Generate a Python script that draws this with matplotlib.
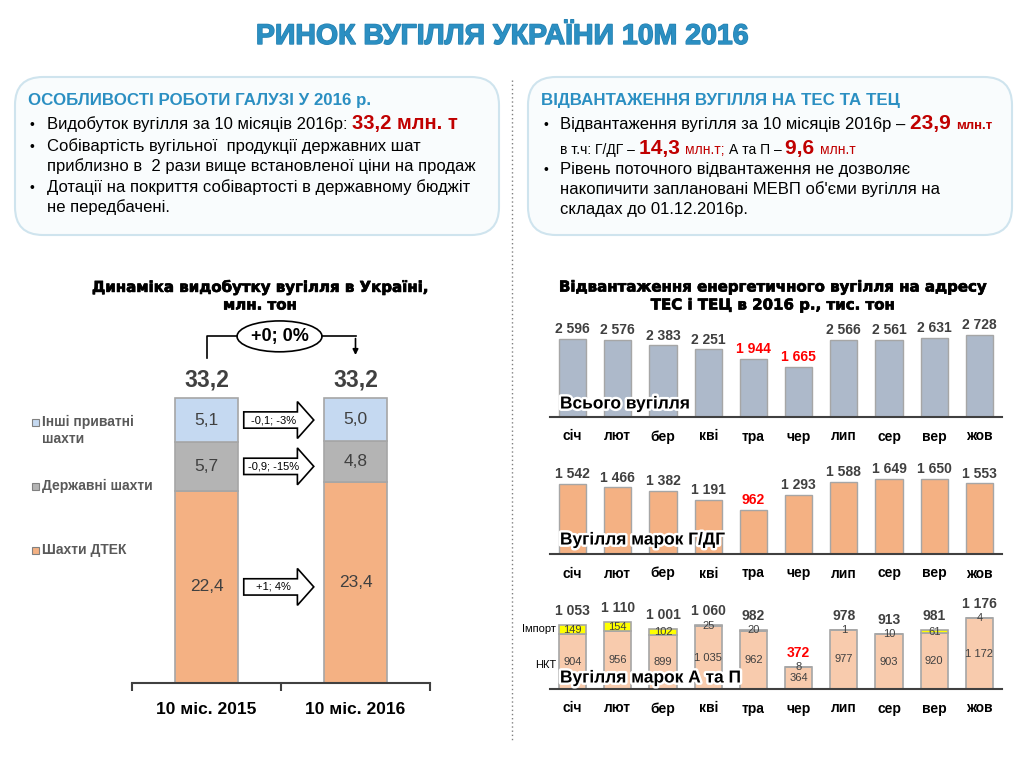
import numpy as np
import matplotlib.pyplot as plt
import matplotlib.patheffects as pe
from matplotlib.patches import FancyBboxPatch, FancyArrow, Ellipse, Rectangle

plt.rcParams['font.family'] = ['Liberation Sans', 'DejaVu Sans']

# --- left chart: coal production, mln t ---
periods = ['10 міс. 2015', '10 міс. 2016']
dtek = [22.4, 23.4]
state = [5.7, 4.8]
private = [5.1, 5.0]
totals = [33.2, 33.2]
seg_names = ['Шахти ДТЕК', 'Державні шахти', 'Інші приватні\nшахти']
change_labels = ['+1; 4%', '-0,9; -15%', '-0,1; -3%']
total_change = '+0; 0%'

# --- right charts: shipments to TPP/CHP, thousand t ---
months = ['січ', 'лют', 'бер', 'кві', 'тра', 'чер', 'лип', 'сер', 'вер', 'жов']
total_ship = [2596, 2576, 2383, 2251, 1944, 1665, 2566, 2561, 2631, 2728]
gdg_ship = [1542, 1466, 1382, 1191, 962, 1293, 1588, 1649, 1650, 1553]
ap_nkt = [904, 956, 899, 1035, 962, 364, 977, 903, 920, 1172]
ap_import = [149, 154, 102, 25, 20, 8, 1, 10, 61, 4]
ap_total = [1053, 1110, 1001, 1060, 982, 372, 978, 913, 981, 1176]
total_red = ['тра', 'чер']
gdg_red = ['тра']
ap_red = ['чер']

W, H = 1024, 768
BLUE = '#2b8fc2'
DARK = '#404040'

fig = plt.figure(figsize=(W / 100, H / 100), dpi=100)
fig.patch.set_facecolor('white')


def px_axes(x0, y0, x1, y1):
    ax = fig.add_axes([x0 / W, 1 - y1 / H, (x1 - x0) / W, (y1 - y0) / H])
    ax.patch.set_visible(False)
    return ax


def fmt(v):
    return f'{v:,}'.replace(',', ' ')


# background layer in pixel coordinates
bg = fig.add_axes([0, 0, 1, 1])
bg.set_xlim(0, W)
bg.set_ylim(H, 0)
bg.axis('off')
renderer = fig.canvas.get_renderer()


def rich_line(x, y, parts):
    # parts: (text, fontsize, weight, color); drawn one after another on a common baseline
    for s, size, weight, color in parts:
        t = bg.text(x, y, s, fontsize=size, fontweight=weight, color=color,
                    va='baseline', ha='left')
        x += t.get_window_extent(renderer).width


bg.text(502, 37, 'РИНОК ВУГІЛЛЯ УКРАЇНИ 10М 2016', ha='center', va='center',
        fontsize=20.5, fontweight='bold', color=BLUE,
        path_effects=[pe.withStroke(linewidth=1.0, foreground='#2580b0')])

for x0 in (15, 528):
    bg.add_patch(FancyBboxPatch((x0, 77), 484, 158, boxstyle='round,pad=0,rounding_size=28',
                                fc='#f9fcfd', ec='#cfe4ee', lw=1.5))

bg.plot([512, 512], [80, 742], ls=(0, (1, 2)), color='#808080', lw=1)

# left text box
bg.text(28, 100, 'ОСОБЛИВОСТІ РОБОТИ ГАЛУЗІ У 2016 р.', fontsize=12.2, fontweight='bold',
        color=BLUE, va='center')
rich_line(47, 129, [('Видобуток вугілля за 10 місяців 2016р: ', 12, 'normal', 'black'),
                    ('33,2 млн. т', 14.5, 'bold', '#c00000')])
for y, s in [(151, 'Собівартість вугільної  продукції державних шат'),
             (171, 'приблизно в  2 рази вище встановленої ціни на продаж'),
             (192, 'Дотації на покриття собівартості в державному бюджіт'),
             (212, 'не передбачені.')]:
    bg.text(47, y, s, fontsize=12, va='baseline')
for y in (129, 151, 192):
    bg.text(30, y, '•', fontsize=10, va='baseline')

# right text box
bg.text(541, 100, 'ВІДВАНТАЖЕННЯ ВУГІЛЛЯ НА ТЕС ТА ТЕЦ', fontsize=12.2, fontweight='bold',
        color=BLUE, va='center')
rich_line(560, 129, [('Відвантаження вугілля за 10 місяців 2016р – ', 12, 'normal', 'black'),
                     ('23,9 ', 15, 'bold', '#c00000'),
                     ('млн.т', 9.5, 'bold', '#c00000')])
rich_line(560, 154, [('в т.ч: Г/ДГ – ', 10, 'normal', 'black'),
                     ('14,3 ', 15, 'bold', '#c00000'),
                     ('млн.т; ', 10, 'normal', '#c00000'),
                     ('А та П – ', 10, 'normal', 'black'),
                     ('9,6 ', 15, 'bold', '#c00000'),
                     ('млн.т', 10, 'normal', '#c00000')])
for y, s in [(174, 'Рівень поточного відвантаження не дозволяє'),
             (194, 'накопичити заплановані МЕВП об\'єми вугілля на'),
             (214, 'складах до 01.12.2016р.')]:
    bg.text(560, y, s, fontsize=12, va='baseline')
for y in (129, 174):
    bg.text(543, y, '•', fontsize=10, va='baseline')

# ---------------- left chart ----------------
title_fx = [pe.withStroke(linewidth=0.5, foreground='black')]
bg.text(260, 287, 'Динаміка видобутку вугілля в Україні,', ha='center', va='center',
        fontsize=10.8, fontweight='bold', family='DejaVu Sans', path_effects=title_fx)
bg.text(260, 305, 'млн. тон', ha='center', va='center',
        fontsize=10.8, fontweight='bold', family='DejaVu Sans', path_effects=title_fx)

ax1 = px_axes(132, 318, 430, 683)
scale1 = 8.58  # px per mln t
ax1.set_xlim(-0.5, 1.5)
ax1.set_ylim(0, (683 - 318) / scale1)
x = np.arange(len(periods))
colors = ['#f4b183', '#b4b4b4', '#c5d9f1']
bottom = np.zeros(len(periods))
for vals, c in zip([dtek, state, private], colors):
    ax1.bar(x, vals, bottom=bottom, width=0.42, color=c, edgecolor='#a6a6a6', lw=1.2)
    for i, v in enumerate(vals):
        ax1.text(x[i], bottom[i] + v / 2, f'{v:.1f}'.replace('.', ','), ha='center', va='center',
                 fontsize=12.5, color=DARK)
    bottom += np.array(vals)
for i, t in enumerate(totals):
    ax1.text(x[i], t + 2.1, f'{t:.1f}'.replace('.', ','), ha='center', va='center',
             fontsize=16.5, fontweight='bold', color=DARK)

# block arrows with changes
mids = [dtek[0] / 2, dtek[0] + state[0] / 2, dtek[0] + state[0] + private[0] / 2]
for y, lab in zip(mids, change_labels):
    ax1.add_patch(FancyArrow(0.25, y, 0.47, 0, width=1.9, head_width=4.3, head_length=0.11,
                             length_includes_head=True, fc='white', ec='black', lw=1.2))
    ax1.text(0.45, y, lab, ha='center', va='center', fontsize=8)

# bracket with total change
y_lo, y_hi = totals[0] + 4.7, totals[0] + 7.2
ell_x, ell_w = 0.49, 0.57
ax1.plot([0, 0, ell_x - ell_w / 2], [y_lo, y_hi, y_hi], color='black', lw=1.2, clip_on=False)
ax1.plot([ell_x + ell_w / 2, 1], [y_hi, y_hi], color='black', lw=1.2, clip_on=False)
ax1.annotate('', xy=(1, y_lo), xytext=(1, y_hi + 0.07),
             arrowprops=dict(arrowstyle='-|>', color='black', lw=1.2, mutation_scale=8))
ax1.add_patch(Ellipse((ell_x, y_hi), ell_w, 3.6, fc='white', ec='black', lw=1.2, clip_on=False))
ax1.text(ell_x, y_hi, total_change, ha='center', va='center', fontsize=13, fontweight='bold')

for s in ['top', 'right', 'left']:
    ax1.spines[s].set_visible(False)
ax1.spines['bottom'].set_color(DARK)
ax1.spines['bottom'].set_linewidth(1.5)
ax1.set_yticks([])
ax1.set_xticks(x)
ax1.set_xticklabels(periods, fontsize=12.5, fontweight='bold')
ax1.tick_params(axis='x', which='major', length=0, pad=14)
ax1.set_xticks([-0.5, 0.5, 1.5], minor=True)
ax1.tick_params(axis='x', which='minor', length=6, width=1.5, color=DARK)

# legend
for (yc, name), c in zip([(550, seg_names[0]), (486, seg_names[1]), (422, seg_names[2])], colors):
    bg.add_patch(Rectangle((32, yc - 3.5), 7, 7, fc=c, ec='#808080', lw=0.8))
    bg.text(42, yc - 7 if '\n' in name else yc, name, fontsize=10, fontweight='bold',
            color='#595959', va='top' if '\n' in name else 'center', linespacing=1.25)

# ---------------- right charts ----------------
bg.text(773, 287, 'Відвантаження енергетичного вугілля на адресу', ha='center', va='center',
        fontsize=10.8, fontweight='bold', family='DejaVu Sans', path_effects=title_fx)
bg.text(773, 305, 'ТЕС і ТЕЦ в 2016 р., тис. тон', ha='center', va='center',
        fontsize=10.8, fontweight='bold', family='DejaVu Sans', path_effects=title_fx)


def month_axes(top, base, scale):
    ax = px_axes(550, top, 1002, base)
    ax.set_xlim(-0.5, 9.5)
    ax.set_ylim(0, (base - top) / scale)
    for s in ['top', 'right', 'left']:
        ax.spines[s].set_visible(False)
    ax.spines['bottom'].set_color(DARK)
    ax.spines['bottom'].set_linewidth(1.5)
    ax.set_yticks([])
    ax.set_xticks(range(len(months)))
    ax.set_xticklabels(months, fontsize=10, fontweight='bold')
    ax.tick_params(axis='x', length=0, pad=9)
    return ax


glow = [pe.withStroke(linewidth=3.5, foreground='white')]
xm = np.arange(len(months))

ax2 = month_axes(317, 417, 0.03006)
ax2.bar(xm, total_ship, width=0.6, color='#adb9ca', edgecolor='#a6a6a6', lw=1)
for i, v in enumerate(total_ship):
    red = months[i] in total_red
    ax2.annotate(fmt(v), (xm[i], v), xytext=(0, 2), textcoords='offset points', ha='center',
                 va='bottom', fontsize=10, fontweight='bold', color='#ff0000' if red else DARK)
ax2.text(0.022, 0.13, 'Всього вугілля', transform=ax2.transAxes, fontsize=12.5, fontweight='bold',
         va='center', zorder=5, path_effects=glow)

ax3 = month_axes(454, 554, 0.04545)
ax3.bar(xm, gdg_ship, width=0.6, color='#f4b183', edgecolor='#a6a6a6', lw=1)
for i, v in enumerate(gdg_ship):
    red = months[i] in gdg_red
    ax3.annotate(fmt(v), (xm[i], v), xytext=(0, 2), textcoords='offset points', ha='center',
                 va='bottom', fontsize=10, fontweight='bold', color='#ff0000' if red else DARK)
ax3.text(0.022, 0.14, 'Вугілля марок Г/ДГ', transform=ax3.transAxes, fontsize=12.5, fontweight='bold',
         va='center', zorder=5, path_effects=glow)

ax4 = month_axes(589, 689, 0.0604)
ax4.bar(xm, ap_nkt, width=0.6, color='#f8cbad', edgecolor='#a6a6a6', lw=1.2)
ax4.bar(xm, ap_import, bottom=ap_nkt, width=0.6, color='#ffff00', edgecolor='#a6a6a6', lw=1.2)
for i in range(len(months)):
    ax4.text(xm[i], ap_nkt[i] / 2, fmt(ap_nkt[i]), ha='center', va='center', fontsize=8, color=DARK)
    ax4.text(xm[i], ap_nkt[i] + ap_import[i] / 2, fmt(ap_import[i]), ha='center', va='center',
             fontsize=8, color=DARK)
    red = months[i] in ap_red
    ax4.annotate(fmt(ap_total[i]), (xm[i], ap_total[i]), xytext=(0, 5), textcoords='offset points',
                 ha='center', va='bottom', fontsize=10, fontweight='bold',
                 color='#ff0000' if red else DARK)
ax4.text(0.022, 0.11, 'Вугілля марок А та П', transform=ax4.transAxes, fontsize=12.5, fontweight='bold',
         va='center', zorder=5, path_effects=glow)
bg.text(556, 629, 'Імпорт', ha='right', va='center', fontsize=8)
bg.text(556, 665, 'НКТ', ha='right', va='center', fontsize=8)

fig.savefig('out.png', dpi=100)
